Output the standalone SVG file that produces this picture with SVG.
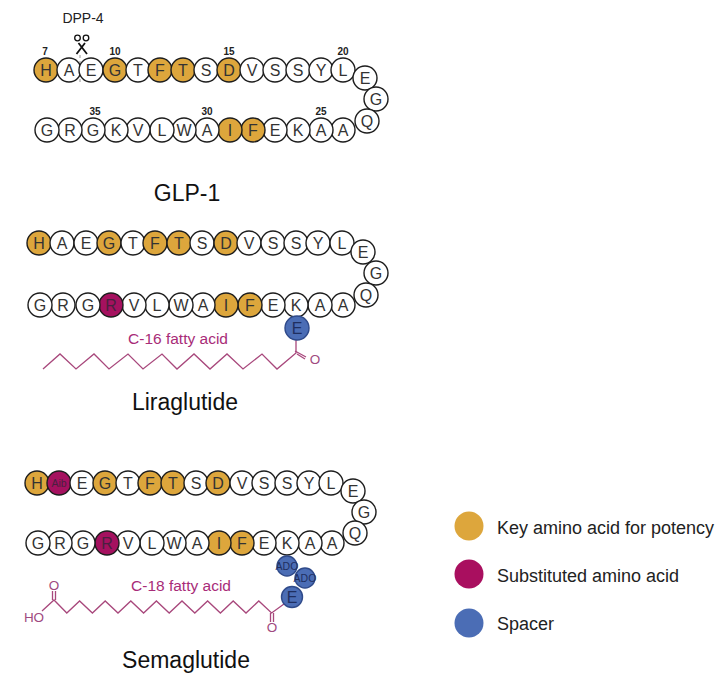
<svg xmlns="http://www.w3.org/2000/svg" width="721" height="678" viewBox="0 0 721 678">
<style>
text{font-family:"Liberation Sans",Arial,sans-serif}
.n circle{stroke:#1d1d1d;stroke-width:1.4;fill:#fff}
.n text{font-size:16px;text-anchor:middle;fill:#333}
.n.k circle{fill:#dda63c}
.n.s circle{fill:#a5115f}
.n.s text{fill:#4a2040}
.n.b circle{fill:#4b6db5;stroke:#2f4a8a}
.n.b text{fill:#1f2f60}
.n.small text{font-size:10.500px}
.num{font-size:10px;font-weight:bold;text-anchor:middle;fill:#222}
.title{font-size:23px;text-anchor:middle;fill:#111}
.acid{font-size:15.500px;text-anchor:middle;fill:#a82c78}
.chem{font-size:13.500px;fill:#a04a80;text-anchor:middle}
.chain{fill:none;stroke:#a8487c;stroke-width:1.3;stroke-linejoin:miter}
.leg{font-size:18px;fill:#222}
</style>
<g id="labels">
<text x="83" y="23" font-size="14" text-anchor="middle" fill="#222">DPP-4</text>
<text class="num" x="45" y="55">7</text><text class="num" x="115" y="55">10</text><text class="num" x="229" y="55">15</text><text class="num" x="343" y="55">20</text>
<text class="num" x="321" y="115">25</text><text class="num" x="207" y="115">30</text><text class="num" x="95" y="115">35</text>
<text class="title" x="187" y="201">GLP-1</text>
<text class="title" x="185" y="410">Liraglutide</text>
<text class="title" x="186" y="668">Semaglutide</text>
<text class="acid" x="178" y="344">C-16 fatty acid</text>
<text class="acid" x="181" y="591">C-18 fatty acid</text>
<text class="chem" x="315" y="364">O</text>
<text class="chem" x="54" y="590">O</text>
<text class="chem" x="272" y="632">O</text>
<text class="chem" x="34" y="622">HO</text>
</g>
<g id="connectors">
<path d="M80 55V83" fill="none" stroke="#777" stroke-width="0.8" stroke-dasharray="3 3"/>
<path class="chain" d="M43 369L60 354L76 369L94 354L109 369L128 354L143 369L162 354L177 369L194 354L210 369L227 354L243 369L262 354L277 369L296 353V339"/>
<path class="chain" d="M295 351L306 357M297 354L305 359"/>
<path class="chain" d="M42 611L54 600L66.800 613L79.600 601L92.400 613L105.200 601L118 613L130.800 601L143.600 613L156.400 601L169.200 613L182 601L194.800 613L207.600 601L220.400 613L233.200 601L246 613L258.800 601L271.600 613L284 604"/>
<path class="chain" d="M52.500 600V591M55.500 600V591M270.500 613V622M273.500 613V622"/>
</g>
<g id="scissors" fill="none" stroke="#111">
<path d="M85 43L76.500 54M78.500 43L87 54" stroke-width="1.800"/>
<circle cx="77.500" cy="38" r="2.800" stroke-width="1.300"/><circle cx="86" cy="38" r="2.800" stroke-width="1.300"/>
</g>
<g id="glp1">
<g class="n k" id="g-h"><circle cx="46" cy="70" r="12"/><text x="46" y="76">H</text></g>
<g class="n" id="g-a"><circle cx="69" cy="70" r="12"/><text x="69" y="76">A</text></g>
<g class="n" id="g-e"><circle cx="91" cy="70" r="12"/><text x="91" y="76">E</text></g>
<g class="n k" id="g-g"><circle cx="115" cy="70" r="12"/><text x="115" y="76">G</text></g>
<g class="n" id="g-t"><circle cx="138" cy="70" r="12"/><text x="138" y="76">T</text></g>
<g class="n k" id="g-f"><circle cx="160" cy="70" r="12"/><text x="160" y="76">F</text></g>
<g class="n k" id="g-t2"><circle cx="183" cy="70" r="12"/><text x="183" y="76">T</text></g>
<g class="n" id="g-s"><circle cx="206" cy="70" r="12"/><text x="206" y="76">S</text></g>
<g class="n k" id="g-d"><circle cx="229" cy="70" r="12"/><text x="229" y="76">D</text></g>
<g class="n" id="g-v"><circle cx="252" cy="70" r="12"/><text x="252" y="76">V</text></g>
<g class="n" id="g-s2"><circle cx="275" cy="70" r="12"/><text x="275" y="76">S</text></g>
<g class="n" id="g-s3"><circle cx="298" cy="70" r="12"/><text x="298" y="76">S</text></g>
<g class="n" id="g-y"><circle cx="321" cy="70" r="12"/><text x="321" y="76">Y</text></g>
<g class="n" id="g-l"><circle cx="343" cy="70" r="12"/><text x="343" y="76">L</text></g>
<g class="n" id="g-e2"><circle cx="365" cy="78" r="12"/><text x="365" y="84">E</text></g>
<g class="n" id="g-g2"><circle cx="376" cy="99" r="12"/><text x="376" y="105">G</text></g>
<g class="n" id="g-q"><circle cx="367" cy="121" r="12"/><text x="367" y="127">Q</text></g>
<g class="n" id="g-a2"><circle cx="343" cy="130" r="12"/><text x="343" y="136">A</text></g>
<g class="n" id="g-a3"><circle cx="321" cy="130" r="12"/><text x="321" y="136">A</text></g>
<g class="n" id="g-k"><circle cx="298" cy="130" r="12"/><text x="298" y="136">K</text></g>
<g class="n" id="g-e3"><circle cx="275" cy="130" r="12"/><text x="275" y="136">E</text></g>
<g class="n k" id="g-f2"><circle cx="253" cy="130" r="12"/><text x="253" y="136">F</text></g>
<g class="n k" id="g-i"><circle cx="230" cy="130" r="12"/><text x="230" y="136">I</text></g>
<g class="n" id="g-a4"><circle cx="207" cy="130" r="12"/><text x="207" y="136">A</text></g>
<g class="n" id="g-w"><circle cx="184" cy="130" r="12"/><text x="184" y="136">W</text></g>
<g class="n" id="g-l2"><circle cx="162" cy="130" r="12"/><text x="162" y="136">L</text></g>
<g class="n" id="g-v2"><circle cx="138" cy="130" r="12"/><text x="138" y="136">V</text></g>
<g class="n" id="g-k2"><circle cx="116" cy="130" r="12"/><text x="116" y="136">K</text></g>
<g class="n" id="g-g3"><circle cx="93" cy="130" r="12"/><text x="93" y="136">G</text></g>
<g class="n" id="g-r"><circle cx="70" cy="130" r="12"/><text x="70" y="136">R</text></g>
<g class="n" id="g-g4"><circle cx="47" cy="130" r="12"/><text x="47" y="136">G</text></g>
</g>
<g id="liraglutide">
<g class="n k" id="l-h"><circle cx="39" cy="243" r="12"/><text x="39" y="249">H</text></g>
<g class="n" id="l-a"><circle cx="62" cy="243" r="12"/><text x="62" y="249">A</text></g>
<g class="n" id="l-e"><circle cx="86" cy="243" r="12"/><text x="86" y="249">E</text></g>
<g class="n k" id="l-g"><circle cx="109" cy="243" r="12"/><text x="109" y="249">G</text></g>
<g class="n" id="l-t"><circle cx="133" cy="243" r="12"/><text x="133" y="249">T</text></g>
<g class="n k" id="l-f"><circle cx="155" cy="243" r="12"/><text x="155" y="249">F</text></g>
<g class="n k" id="l-t2"><circle cx="179" cy="243" r="12"/><text x="179" y="249">T</text></g>
<g class="n" id="l-s"><circle cx="202" cy="243" r="12"/><text x="202" y="249">S</text></g>
<g class="n k" id="l-d"><circle cx="226" cy="243" r="12"/><text x="226" y="249">D</text></g>
<g class="n" id="l-v"><circle cx="249" cy="243" r="12"/><text x="249" y="249">V</text></g>
<g class="n" id="l-s2"><circle cx="273" cy="243" r="12"/><text x="273" y="249">S</text></g>
<g class="n" id="l-s3"><circle cx="296" cy="243" r="12"/><text x="296" y="249">S</text></g>
<g class="n" id="l-y"><circle cx="318" cy="243" r="12"/><text x="318" y="249">Y</text></g>
<g class="n" id="l-l"><circle cx="342" cy="243" r="12"/><text x="342" y="249">L</text></g>
<g class="n" id="l-e2"><circle cx="363" cy="252" r="12"/><text x="363" y="258">E</text></g>
<g class="n" id="l-g2"><circle cx="376" cy="273" r="12"/><text x="376" y="279">G</text></g>
<g class="n" id="l-q"><circle cx="366" cy="295" r="12"/><text x="366" y="301">Q</text></g>
<g class="n" id="l-a2"><circle cx="343" cy="305" r="12"/><text x="343" y="311">A</text></g>
<g class="n" id="l-a3"><circle cx="320" cy="305" r="12"/><text x="320" y="311">A</text></g>
<g class="n" id="l-k"><circle cx="296" cy="305" r="12"/><text x="296" y="311">K</text></g>
<g class="n" id="l-e3"><circle cx="273" cy="305" r="12"/><text x="273" y="311">E</text></g>
<g class="n k" id="l-f2"><circle cx="250" cy="305" r="12"/><text x="250" y="311">F</text></g>
<g class="n k" id="l-i"><circle cx="226" cy="305" r="12"/><text x="226" y="311">I</text></g>
<g class="n" id="l-a4"><circle cx="203" cy="305" r="12"/><text x="203" y="311">A</text></g>
<g class="n" id="l-w"><circle cx="181" cy="305" r="12"/><text x="181" y="311">W</text></g>
<g class="n" id="l-l2"><circle cx="157" cy="305" r="12"/><text x="157" y="311">L</text></g>
<g class="n" id="l-v2"><circle cx="134" cy="305" r="12"/><text x="134" y="311">V</text></g>
<g class="n s" id="l-r2"><circle cx="111" cy="305" r="12"/><text x="111" y="311">R</text></g>
<g class="n" id="l-g3"><circle cx="88" cy="305" r="12"/><text x="88" y="311">G</text></g>
<g class="n" id="l-r"><circle cx="63" cy="305" r="12"/><text x="63" y="311">R</text></g>
<g class="n" id="l-g4"><circle cx="40" cy="305" r="12"/><text x="40" y="311">G</text></g>
<g class="n b" id="l-spacer"><circle cx="297" cy="328" r="12"/><text x="297" y="334">E</text></g>
</g>
<g id="semaglutide">
<g class="n k" id="s-h"><circle cx="37" cy="483" r="12"/><text x="37" y="489">H</text></g>
<g class="n s small" id="s-aib"><circle cx="59" cy="483" r="12"/><text x="59" y="487">Aib</text></g>
<g class="n" id="s-e"><circle cx="82" cy="483" r="12"/><text x="82" y="489">E</text></g>
<g class="n k" id="s-g"><circle cx="105" cy="483" r="12"/><text x="105" y="489">G</text></g>
<g class="n" id="s-t"><circle cx="128" cy="483" r="12"/><text x="128" y="489">T</text></g>
<g class="n k" id="s-f"><circle cx="150" cy="483" r="12"/><text x="150" y="489">F</text></g>
<g class="n k" id="s-t2"><circle cx="173" cy="483" r="12"/><text x="173" y="489">T</text></g>
<g class="n" id="s-s"><circle cx="196" cy="483" r="12"/><text x="196" y="489">S</text></g>
<g class="n k" id="s-d"><circle cx="218" cy="483" r="12"/><text x="218" y="489">D</text></g>
<g class="n" id="s-v"><circle cx="242" cy="483" r="12"/><text x="242" y="489">V</text></g>
<g class="n" id="s-s2"><circle cx="264" cy="483" r="12"/><text x="264" y="489">S</text></g>
<g class="n" id="s-s3"><circle cx="287" cy="483" r="12"/><text x="287" y="489">S</text></g>
<g class="n" id="s-y"><circle cx="309" cy="483" r="12"/><text x="309" y="489">Y</text></g>
<g class="n" id="s-l"><circle cx="331" cy="483" r="12"/><text x="331" y="489">L</text></g>
<g class="n" id="s-e2"><circle cx="353" cy="491" r="12"/><text x="353" y="497">E</text></g>
<g class="n" id="s-g2"><circle cx="364" cy="512" r="12"/><text x="364" y="518">G</text></g>
<g class="n" id="s-q"><circle cx="355" cy="533" r="12"/><text x="355" y="539">Q</text></g>
<g class="n" id="s-a2"><circle cx="332" cy="543" r="12"/><text x="332" y="549">A</text></g>
<g class="n" id="s-a3"><circle cx="310" cy="543" r="12"/><text x="310" y="549">A</text></g>
<g class="n" id="s-k"><circle cx="287" cy="543" r="12"/><text x="287" y="549">K</text></g>
<g class="n" id="s-e3"><circle cx="264" cy="543" r="12"/><text x="264" y="549">E</text></g>
<g class="n k" id="s-f2"><circle cx="242" cy="543" r="12"/><text x="242" y="549">F</text></g>
<g class="n k" id="s-i"><circle cx="219" cy="543" r="12"/><text x="219" y="549">I</text></g>
<g class="n" id="s-a4"><circle cx="197" cy="543" r="12"/><text x="197" y="549">A</text></g>
<g class="n" id="s-w"><circle cx="174" cy="543" r="12"/><text x="174" y="549">W</text></g>
<g class="n" id="s-l2"><circle cx="152" cy="543" r="12"/><text x="152" y="549">L</text></g>
<g class="n" id="s-v2"><circle cx="128" cy="543" r="12"/><text x="128" y="549">V</text></g>
<g class="n s" id="s-r2"><circle cx="107" cy="543" r="12"/><text x="107" y="549">R</text></g>
<g class="n" id="s-g3"><circle cx="83" cy="543" r="12"/><text x="83" y="549">G</text></g>
<g class="n" id="s-r"><circle cx="60" cy="543" r="12"/><text x="60" y="549">R</text></g>
<g class="n" id="s-g4"><circle cx="38" cy="543" r="12"/><text x="38" y="549">G</text></g>
<g class="n b small" id="s-ado1"><circle cx="287" cy="566" r="10"/><text x="287" y="570">ADO</text></g>
<g class="n b small" id="s-ado2"><circle cx="305" cy="578" r="10"/><text x="305" y="582">ADO</text></g>
<g class="n b" id="s-spacer"><circle cx="292" cy="597" r="10.500"/><text x="292" y="603">E</text></g>
</g>
<g id="legend">
<g id="leg-key"><circle cx="469" cy="526" r="14.500" fill="#dda63c"/><text class="leg" x="497" y="534">Key amino acid for potency</text></g>
<g id="leg-sub"><circle cx="469" cy="574" r="14.500" fill="#a90f5f"/><text class="leg" x="497" y="582">Substituted amino acid</text></g>
<g id="leg-spacer"><circle cx="469" cy="623" r="14.500" fill="#4b6db5"/><text class="leg" x="497" y="630">Spacer</text></g>
</g>
</svg>
